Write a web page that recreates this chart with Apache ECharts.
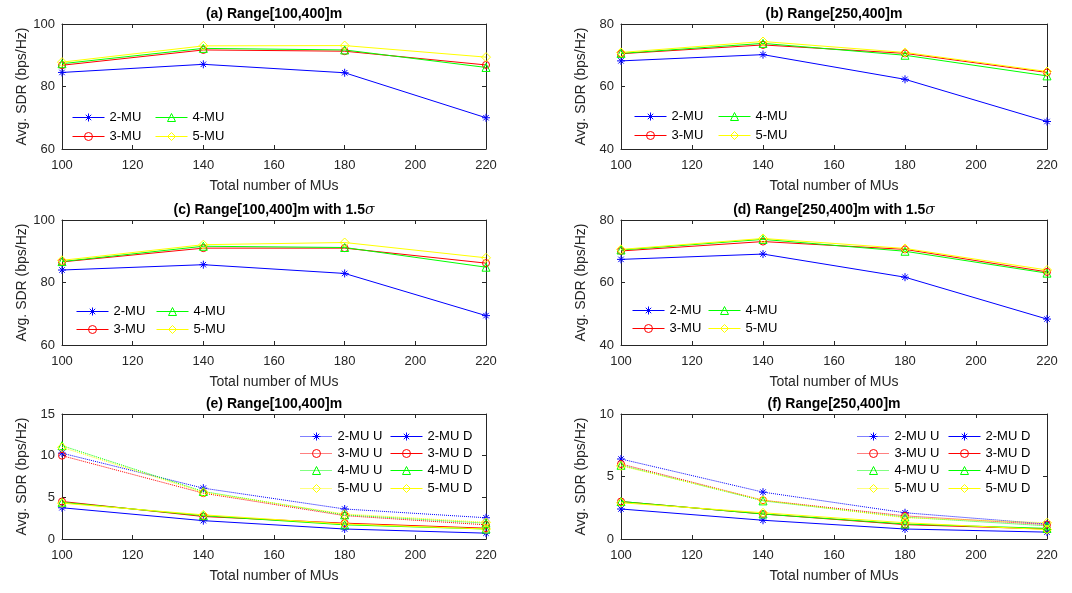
<!DOCTYPE html>
<html>
<head>
<meta charset="utf-8">
<script src="https://cdn.jsdelivr.net/npm/echarts@6/dist/echarts.min.js"></script>
<style>html,body{margin:0;padding:0;background:#fff;}#c{width:1072px;height:593px;}</style>
</head>
<body>
<div id="c"></div>
<script>
// ---------- DATA ----------
var xValues = [100, 140, 180, 220];
var xTicks = {min: 100, max: 220, interval: 20};

var titles = [
  "(a) Range[100,400]m",
  "(b) Range[250,400]m",
  "(c) Range[100,400]m with 1.5",
  "(d) Range[250,400]m with 1.5",
  "(e) Range[100,400]m",
  "(f) Range[250,400]m"
];
var sigmaTitle = [false, false, true, true, false, false];
var yRanges = [
  {min: 60, max: 100, interval: 20},
  {min: 40, max: 80, interval: 20},
  {min: 60, max: 100, interval: 20},
  {min: 40, max: 80, interval: 20},
  {min: 0, max: 15, interval: 5},
  {min: 0, max: 10, interval: 5}
];

// (a)
var a2 = [84.5, 87.1, 84.4, 70.0];
var a3 = [86.8, 91.7, 91.3, 86.9];
var a4 = [87.3, 92.2, 91.7, 86.1];
var a5 = [87.8, 93.0, 93.1, 89.4];
// (b)
var b2 = [68.2, 70.2, 62.3, 48.8];
var b3 = [70.5, 73.3, 70.6, 64.5];
var b4 = [70.6, 73.8, 70.0, 63.4];
var b5 = [70.9, 74.4, 70.9, 64.8];
// (c)
var c2 = [84.0, 85.7, 82.9, 69.4];
var c3 = [86.6, 91.0, 91.0, 86.2];
var c4 = [86.7, 91.6, 91.2, 84.9];
var c5 = [87.1, 92.1, 92.8, 87.9];
// (d)
var d2 = [67.4, 69.1, 61.7, 48.3];
var d3 = [70.1, 73.1, 70.6, 63.4];
var d4 = [70.4, 73.8, 70.0, 63.0];
var d5 = [70.6, 74.1, 70.9, 64.0];
// (e)
var e2U = [10.3, 6.1, 3.6, 2.55];
var e2D = [3.75, 2.2, 1.2, 0.7];
var e3U = [10.0, 5.5, 2.8, 1.7];
var e3D = [4.5, 2.7, 1.9, 1.3];
var e4U = [11.2, 5.7, 2.9, 1.9];
var e4D = [4.4, 2.8, 1.7, 1.2];
var e5U = [11.0, 5.6, 3.0, 2.0];
var e5D = [4.3, 2.9, 1.8, 1.2];
// (f)
var f2U = [6.4, 3.75, 2.1, 1.2];
var f2D = [2.4, 1.5, 0.8, 0.55];
var f3U = [6.0, 3.1, 1.85, 1.15];
var f3D = [3.0, 2.0, 1.15, 0.8];
var f4U = [5.9, 3.05, 1.75, 1.05];
var f4D = [3.0, 2.0, 1.2, 0.85];
var f5U = [5.85, 3.1, 1.7, 1.3];
var f5D = [2.9, 2.1, 1.3, 0.75];

// ---------- STYLE / LAYOUT ----------
var FONT = "'Liberation Sans', Arial, Helvetica, sans-serif";
var TXT = '#262626';
var AX = '#262626';
var ASTER = 'path://M5,0L5,10M0,5L10,5M1.6,1.6L8.4,8.4M1.6,8.4L8.4,1.6';
var mu = {
  '2': {color: '#0000ff', symbol: ASTER, size: 8},
  '3': {color: '#ff0000', symbol: 'circle', size: 7},
  '4': {color: '#00ff00', symbol: 'triangle', size: 8},
  '5': {color: '#ffff00', symbol: 'diamond', size: 9}
};
var grids = [
  {left: 62, top: 24, width: 424, height: 125},
  {left: 621, top: 24, width: 426, height: 125},
  {left: 62, top: 220, width: 424, height: 125},
  {left: 621, top: 220, width: 426, height: 125},
  {left: 62, top: 414, width: 424, height: 125},
  {left: 621, top: 414, width: 426, height: 125}
];

var xAxes = [], yAxes = [], series = [], legends = [];

grids.forEach(function (g, i) {
  var tick = {show: true, inside: true, length: 4, lineStyle: {color: AX, width: 1}};
  var line = {show: true, onZero: false, lineStyle: {color: AX, width: 1}};
  var titleText = sigmaTitle[i] ? '{b|' + titles[i] + '}{s|σ}' : '{b|' + titles[i] + '}';
  xAxes.push({
    type: 'value', gridIndex: i, position: 'bottom',
    min: xTicks.min, max: xTicks.max, interval: xTicks.interval,
    axisLine: line, axisTick: tick, splitLine: {show: false},
    axisLabel: {fontSize: 13, color: TXT, fontFamily: FONT, margin: 10},
    name: 'Total number of MUs', nameLocation: 'middle', nameGap: 30,
    nameTextStyle: {fontSize: 14, color: TXT, fontFamily: FONT}
  });
  xAxes.push({
    type: 'value', gridIndex: i, position: 'top',
    min: xTicks.min, max: xTicks.max, interval: xTicks.interval,
    axisLine: line, axisTick: tick, splitLine: {show: false},
    axisLabel: {show: false},
    name: titleText, nameLocation: 'middle', nameGap: 3,
    nameTextStyle: {
      rich: {
        b: {fontSize: 14, fontWeight: 'bold', color: '#000', fontFamily: FONT},
        s: {fontSize: 14, fontStyle: 'italic', color: '#000', fontFamily: "'DejaVu Serif', serif"}
      }
    }
  });
  var yr = yRanges[i];
  yAxes.push({
    type: 'value', gridIndex: i, position: 'left',
    min: yr.min, max: yr.max, interval: yr.interval,
    axisLine: line, axisTick: tick, splitLine: {show: false},
    axisLabel: {fontSize: 13, color: TXT, fontFamily: FONT, margin: 7},
    name: 'Avg. SDR (bps/Hz)', nameLocation: 'middle', nameGap: 33,
    nameTextStyle: {fontSize: 14, color: TXT, fontFamily: FONT}
  });
  yAxes.push({
    type: 'value', gridIndex: i, position: 'right',
    min: yr.min, max: yr.max, interval: yr.interval,
    axisLine: line, axisTick: tick, splitLine: {show: false},
    axisLabel: {show: false}
  });
});

function addSeries(gi, name, key, values, dotted) {
  var s = mu[key];
  series.push({
    type: 'line', name: name, xAxisIndex: gi * 2, yAxisIndex: gi * 2,
    data: xValues.map(function (x, k) { return [x, values[k]]; }),
    symbol: s.symbol, symbolSize: s.size, showSymbol: true,
    itemStyle: {color: 'rgba(0,0,0,0)', borderColor: s.color, borderWidth: 1},
    lineStyle: {color: s.color, width: 1, type: dotted ? 'dotted' : 'solid'},
    emphasis: {disabled: true}, animation: false
  });
}

var topSets = [[a2, a3, a4, a5], [b2, b3, b4, b5], [c2, c3, c4, c5], [d2, d3, d4, d5]];
topSets.forEach(function (set, gi) {
  ['2', '3', '4', '5'].forEach(function (k, j) {
    addSeries(gi, k + '-MU', k, set[j], false);
  });
});
var eU = [e2U, e3U, e4U, e5U], eD = [e2D, e3D, e4D, e5D];
var fU = [f2U, f3U, f4U, f5U], fD = [f2D, f3D, f4D, f5D];
['2', '3', '4', '5'].forEach(function (k, j) {
  addSeries(4, k + '-MU U', k, eU[j], true);
  addSeries(4, k + '-MU D', k, eD[j], false);
});
['2', '3', '4', '5'].forEach(function (k, j) {
  addSeries(5, k + '-MU U', k, fU[j], true);
  addSeries(5, k + '-MU D', k, fD[j], false);
});

function addLegend(name, x, yc) {
  var s = mu[name.charAt(0)];
  var dotted = / U$/.test(name);
  legends.push({
    data: [name], left: x, top: yc - 8, padding: 0, itemGap: 0,
    itemWidth: 32, itemHeight: 10, selectedMode: false,
    itemStyle: {color: 'rgba(0,0,0,0)', borderColor: s.color, borderWidth: 1},
    lineStyle: {color: s.color, width: 1, type: dotted ? 'dotted' : 'solid'},
    textStyle: {fontSize: 13, color: '#000', fontFamily: FONT}
  });
}
var legendLayouts = [
  {names: [['2-MU', '4-MU'], ['3-MU', '5-MU']], cols: [72, 155], rows: [119, 138]},
  {names: [['2-MU', '4-MU'], ['3-MU', '5-MU']], cols: [634, 718], rows: [118, 137]},
  {names: [['2-MU', '4-MU'], ['3-MU', '5-MU']], cols: [76, 156], rows: [313, 331]},
  {names: [['2-MU', '4-MU'], ['3-MU', '5-MU']], cols: [632, 708], rows: [312, 330]},
  {names: [['2-MU U', '2-MU D'], ['3-MU U', '3-MU D'], ['4-MU U', '4-MU D'], ['5-MU U', '5-MU D']], cols: [300, 390], rows: [438, 455, 472, 490]},
  {names: [['2-MU U', '2-MU D'], ['3-MU U', '3-MU D'], ['4-MU U', '4-MU D'], ['5-MU U', '5-MU D']], cols: [857, 948], rows: [438, 455, 472, 490]}
];
legendLayouts.forEach(function (L) {
  L.names.forEach(function (row, r) {
    row.forEach(function (n, c) { addLegend(n, L.cols[c], L.rows[r]); });
  });
});

var chart = echarts.init(document.getElementById('c'), null, {renderer: 'canvas'});
chart.setOption({
  backgroundColor: '#ffffff',
  animation: false,
  textStyle: {fontFamily: FONT},
  grid: grids,
  xAxis: xAxes,
  yAxis: yAxes,
  legend: legends,
  series: series
});
</script>
</body>
</html>
